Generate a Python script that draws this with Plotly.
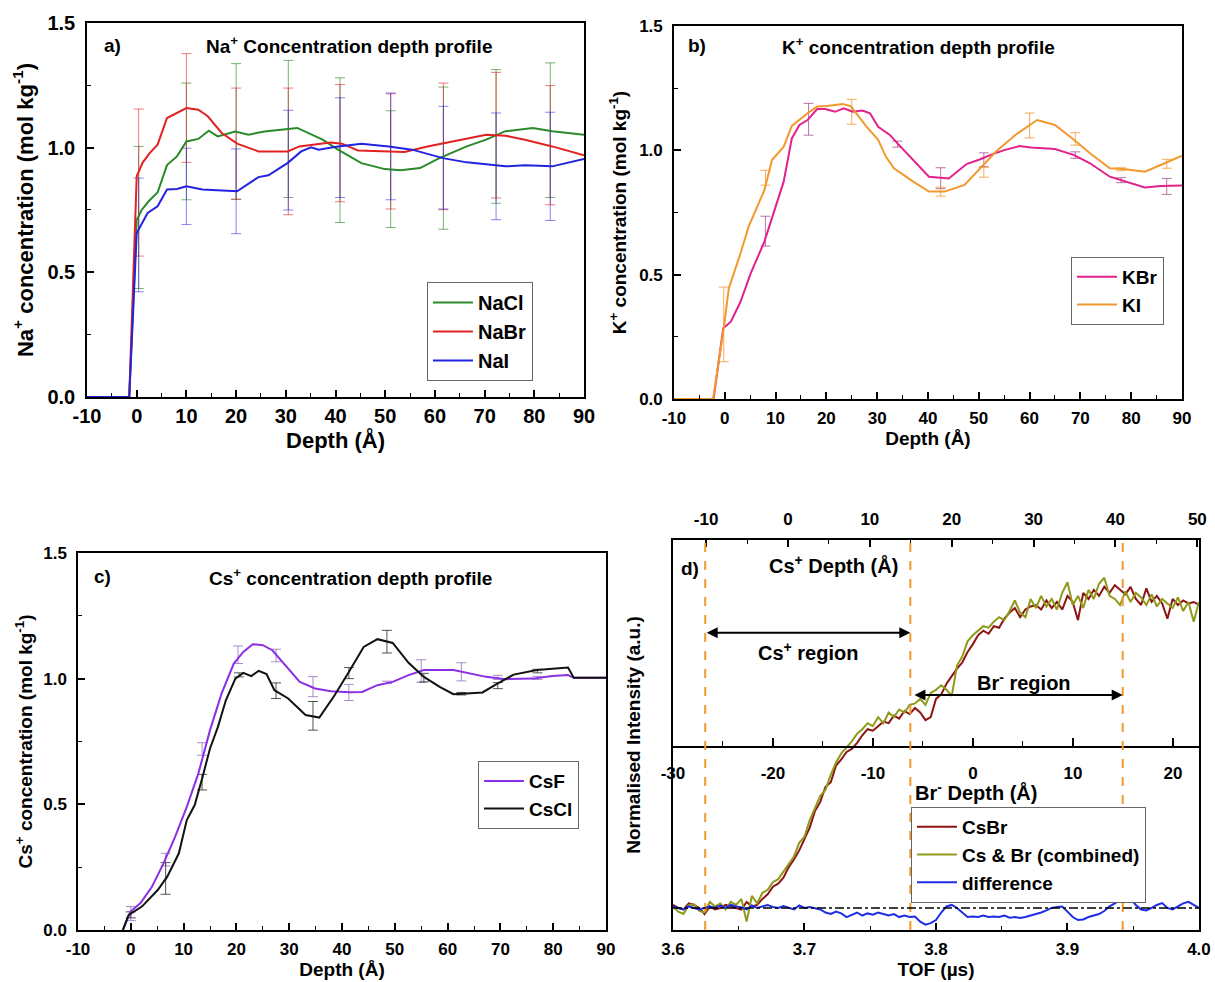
import plotly.graph_objects as go

FONT = "Liberation Sans, Arial, sans-serif"

# ---------------- Panel a : Na+ ----------------
nacl_x = [-10, -1.5, 0.0, 1.0, 2.4, 4.2, 6.1, 8.1, 10.0, 12.4, 14.5, 16.3, 19.8, 22.5, 25.7, 32.3, 37.4, 40.5,
          45.2, 49.9, 53.1, 57.0, 60.9, 66.4, 70.3, 74.2, 79.7, 83.6, 90]
nacl_y = [0, 0, 0.71, 0.75, 0.785, 0.82, 0.93, 0.965, 1.025, 1.035, 1.068, 1.045, 1.065, 1.052, 1.065, 1.079, 1.032,
          0.992, 0.938, 0.914, 0.909, 0.918, 0.958, 1.005, 1.032, 1.066, 1.079, 1.066, 1.052]
nabr_x = [-10, -1.5, 0.0, 1.2, 2.6, 4.2, 6.1, 10.0, 12.4, 14.3, 17.1, 20.2, 24.5, 30.4, 32.7, 39.0, 41.3, 44.5,
          53.9, 58.5, 70.3, 74.2, 78.1, 83.6, 90]
nabr_y = [0, 0, 0.885, 0.94, 0.978, 1.012, 1.119, 1.159, 1.152, 1.126, 1.059, 1.016, 0.985, 0.985, 1.005, 1.021,
          1.016, 0.989, 0.983, 1.005, 1.052, 1.048, 1.032, 1.005, 0.969]
nai_x = [-10, -1.5, 0.0, 2.2, 4.2, 6.1, 8.1, 10.0, 13.2, 17.1, 20.2, 24.5, 26.5, 30.4, 33.1, 35.1, 36.6, 39.8,
         45.2, 50.7, 55.4, 61.6, 66.4, 74.2, 78.1, 83.6, 90]
nai_y = [0, 0, 0.658, 0.738, 0.765, 0.832, 0.834, 0.845, 0.832, 0.829, 0.825, 0.882, 0.889, 0.939, 0.985, 1.001,
         0.992, 1.003, 1.016, 1.005, 0.992, 0.958, 0.941, 0.925, 0.929, 0.925, 0.955]
na_err_x = [0.4, 10.0, 20.0, 30.5, 40.9, 51.1, 61.7, 72.3, 83.2]
nacl_err_y = [0.72, 1.025, 1.065, 1.075, 0.99, 0.914, 0.958, 1.045, 1.07]
nacl_err = [0.285, 0.234, 0.272, 0.275, 0.29, 0.234, 0.285, 0.268, 0.27]
nabr_err_y = [0.86, 1.159, 1.016, 0.985, 1.018, 0.985, 1.005, 1.05, 1.01]
nabr_err = [0.295, 0.218, 0.223, 0.254, 0.235, 0.231, 0.254, 0.252, 0.239]
nai_err_y = [0.65, 0.845, 0.825, 0.95, 1.0, 1.005, 0.96, 0.925, 0.925]
nai_err = [0.228, 0.153, 0.17, 0.2, 0.2, 0.214, 0.206, 0.214, 0.217]

# ---------------- Panel b : K+ ----------------
kbr_x = [-10, -2.2, -0.3, 1.2, 3.1, 5.1, 7.8, 10.1, 11.6, 13.2, 14.7, 16.3, 18.2, 19.8, 21.7, 23.4, 25.2, 27.1,
         28.6, 30.2, 32.5, 34.0, 37.1, 40.2, 44.1, 47.6, 50.3, 52.6, 55.0, 58.0, 60.3, 65.0, 68.8, 71.9, 75.8,
         79.6, 82.7, 85.8, 90]
kbr_y = [0, 0, 0.284, 0.311, 0.391, 0.505, 0.633, 0.78, 0.874, 1.048, 1.102, 1.122, 1.166, 1.166, 1.155, 1.169,
         1.155, 1.16, 1.149, 1.095, 1.062, 1.028, 0.961, 0.894, 0.887, 0.945, 0.964, 0.984, 1.001, 1.017, 1.011,
         1.005, 0.981, 0.948, 0.894, 0.87, 0.851, 0.857, 0.859]
ki_x = [-10, -2.3, -0.1, 0.8, 3.1, 4.7, 7.8, 9.3, 11.6, 13.2, 16.3, 18.2, 20.1, 23.2, 24.8, 27.9, 30.2, 31.7,
        33.3, 37.1, 40.2, 43.3, 47.2, 50.3, 53.4, 57.2, 59.6, 61.5, 65.0, 68.8, 71.9, 75.8, 78.9, 82.7, 86.6, 90]
ki_y = [0, 0, 0.3, 0.445, 0.586, 0.693, 0.84, 0.961, 1.015, 1.098, 1.149, 1.176, 1.178, 1.186, 1.178, 1.095,
        1.042, 0.975, 0.928, 0.874, 0.834, 0.834, 0.861, 0.928, 0.995, 1.062, 1.095, 1.122, 1.102, 1.042, 0.988,
        0.928, 0.924, 0.914, 0.948, 0.979]
kbr_err_x = [8.0, 16.5, 34.0, 42.5, 51.0, 69.0, 78.0, 87.0]
kbr_err_y = [0.675, 1.125, 1.025, 0.888, 0.962, 0.981, 0.88, 0.855]
kbr_err = [0.06, 0.064, 0.012, 0.042, 0.028, 0.013, 0.01, 0.032]
ki_err_x = [-0.2, 8.0, 25.0, 42.5, 51.0, 60.0, 69.0, 78.0, 87.0]
ki_err_y = [0.3, 0.89, 1.155, 0.834, 0.912, 1.1, 1.046, 0.924, 0.946]
ki_err = [0.15, 0.03, 0.05, 0.018, 0.02, 0.05, 0.025, 0.006, 0.018]

# ---------------- Panel c : Cs+ ----------------
csf_x = [-1.5, -0.06, 1.8, 4.0, 6.2, 8.4, 10.6, 12.8, 15.0, 17.2, 19.5, 21.3, 23.1, 25.0, 26.8, 29.0, 32.0, 34.9,
         37.9, 41.5, 43.8, 46.7, 49.6, 52.6, 55.5, 61.1, 63.6, 67.3, 71.0, 76.2, 79.8, 82.8, 83.9, 90]
csf_y = [0, 0.073, 0.106, 0.172, 0.265, 0.371, 0.49, 0.623, 0.795, 0.941, 1.06, 1.106, 1.137, 1.133, 1.113, 1.06,
         0.987, 0.961, 0.95, 0.946, 0.947, 0.974, 0.987, 1.014, 1.034, 1.034, 1.023, 1.007, 0.998, 1.0, 1.01,
         1.014, 1.003, 1.003]
cscl_x = [-1.5, -0.4, 2.1, 5.1, 6.9, 9.1, 10.6, 12.1, 13.6, 15.0, 16.5, 18.0, 19.8, 21.3, 22.8, 24.2, 25.7, 27.2,
          29.8, 33.1, 35.7, 38.6, 41.2, 44.1, 46.7, 49.6, 52.6, 55.5, 58.5, 61.1, 63.6, 66.6, 69.5, 72.5, 76.9,
          79.8, 82.8, 83.9, 90]
cscl_y = [0, 0.06, 0.093, 0.159, 0.212, 0.305, 0.437, 0.497, 0.61, 0.722, 0.808, 0.914, 1.0, 1.023, 1.01, 1.031,
          1.018, 0.954, 0.921, 0.855, 0.845, 0.934, 1.023, 1.126, 1.157, 1.142, 1.063, 1.007, 0.967, 0.938, 0.941,
          0.945, 0.981, 1.016, 1.034, 1.04, 1.044, 1.003, 1.003]
csf_err_x = [0.0, 6.6, 13.5, 20.3, 27.5, 34.5, 41.3, 48.5, 55.0, 62.6, 69.5, 77.0]
csf_err_y = [0.065, 0.28, 0.72, 1.095, 1.092, 0.968, 0.945, 0.985, 1.03, 1.027, 1.005, 1.003]
csf_err = [0.028, 0.025, 0.025, 0.035, 0.025, 0.04, 0.032, 0.005, 0.045, 0.036, 0.008, 0.006]
cscl_err_x = [0.0, 6.6, 13.5, 20.5, 27.5, 34.5, 41.3, 48.5, 55.5, 62.6, 69.5, 77.0]
cscl_err_y = [0.06, 0.205, 0.588, 1.015, 0.952, 0.852, 1.022, 1.147, 1.004, 0.94, 0.972, 1.03]
cscl_err = [0.012, 0.063, 0.031, 0.008, 0.031, 0.057, 0.022, 0.045, 0.017, 0.005, 0.012, 0.007]

# ---------------- Panel d : CsBr TOF ----------------
tof = [3.600, 3.604, 3.608, 3.612, 3.616, 3.620, 3.624, 3.628, 3.632, 3.636,
       3.640, 3.644, 3.648, 3.652, 3.656, 3.660, 3.664, 3.668, 3.672, 3.676,
       3.680, 3.684, 3.688, 3.692, 3.696, 3.700, 3.704, 3.708, 3.712, 3.716,
       3.720, 3.724, 3.728, 3.732, 3.736, 3.740, 3.744, 3.748, 3.752, 3.756,
       3.760, 3.764, 3.768, 3.772, 3.776, 3.780, 3.784, 3.788, 3.792, 3.796,
       3.800, 3.804, 3.808, 3.812, 3.816, 3.820, 3.824, 3.828, 3.832, 3.836,
       3.840, 3.844, 3.848, 3.852, 3.856, 3.860, 3.864, 3.868, 3.872, 3.876,
       3.880, 3.884, 3.888, 3.892, 3.896, 3.900, 3.904, 3.908, 3.912, 3.916,
       3.920, 3.924, 3.928, 3.932, 3.936, 3.940, 3.944, 3.948, 3.952, 3.956,
       3.960, 3.964, 3.968, 3.972, 3.976, 3.980, 3.984, 3.988, 3.992, 3.996,
       4.000]
csbr = [0.01, 0.0, -0.005, 0.015, 0.01, 0.0, -0.02, 0.005, -0.005, 0.0,
        0.01, 0.005, 0.0, -0.005, 0.02, 0.005, 0.01, 0.03, 0.045, 0.07,
        0.08, 0.1, 0.135, 0.16, 0.19, 0.23, 0.265, 0.32, 0.35, 0.4,
        0.415, 0.47, 0.49, 0.515, 0.525, 0.545, 0.57, 0.59, 0.585, 0.6,
        0.615, 0.61, 0.635, 0.625, 0.65, 0.64, 0.66, 0.645, 0.62, 0.63,
        0.69, 0.705, 0.74, 0.765, 0.79, 0.81, 0.845, 0.87, 0.9, 0.915,
        0.905, 0.93, 0.925, 0.955, 0.975, 0.99, 0.96, 0.985, 0.995, 1.0,
        0.985, 1.015, 0.99, 1.01, 0.985, 1.03, 1.01, 0.95, 1.04, 1.02,
        1.05, 1.03, 1.06, 1.04, 1.065, 1.05, 1.035, 1.06, 1.02, 1.0,
        1.055, 1.01, 1.03, 1.005, 0.955, 1.02, 1.0, 1.015, 1.005, 1.01,
        1.0]
combined = [0.005, -0.012, -0.02, 0.01, 0.012, -0.01, -0.015, 0.02, 0.005, 0.015,
            -0.005, 0.02, 0.01, 0.03, -0.045, 0.04, 0.015, 0.05, 0.06, 0.085,
            0.095, 0.12, 0.145, 0.17, 0.215, 0.235, 0.29, 0.33, 0.37, 0.39,
            0.44, 0.48, 0.51, 0.53, 0.55, 0.575, 0.59, 0.61, 0.6, 0.63,
            0.61, 0.645, 0.63, 0.655, 0.645, 0.67, 0.675, 0.69, 0.67, 0.71,
            0.72, 0.735, 0.72, 0.7, 0.8, 0.83, 0.88, 0.9, 0.915, 0.93,
            0.925, 0.945, 0.96, 0.95, 0.98, 1.015, 0.975, 0.96, 1.02, 0.99,
            1.03, 0.995, 1.02, 0.985, 1.04, 1.075, 1.0, 1.03, 0.99, 1.05,
            1.02, 1.07, 1.09, 1.03, 1.02, 1.0, 1.045, 1.01, 1.04, 1.025,
            1.0, 1.035, 0.995, 1.02, 1.005, 0.99, 1.025, 0.98, 1.01, 0.945,
            1.01]
difference = [0.005, 0.0, -0.005, 0.005, 0.0, -0.005, 0.0, 0.005, 0.0, 0.008,
              0.0, 0.01, 0.005, 0.002, -0.005, 0.008, 0.0, 0.005, 0.01, 0.003,
              0.0, 0.006, 0.0, -0.005, 0.008, 0.0, 0.003, 0.0, -0.005, -0.015,
              -0.02, -0.012, -0.018, -0.03, -0.022, -0.015, -0.025, -0.018, -0.022, -0.015,
              -0.02, -0.025, -0.02, -0.03, -0.025, -0.03, -0.028, -0.045, -0.055, -0.05,
              -0.04, -0.015, 0.005, 0.01, 0.0, -0.015, -0.03, -0.028, -0.03, -0.025,
              -0.03, -0.028, -0.03, -0.025, -0.032, -0.03, -0.033, -0.03, -0.025, -0.022,
              -0.015, -0.008, 0.0, 0.003, 0.005, -0.012, -0.03, -0.04, -0.038, -0.03,
              -0.025, -0.02, -0.01, 0.005, 0.015, 0.027, 0.037, 0.03, 0.01, -0.005,
              -0.008, 0.0, 0.01, 0.016, 0.0, -0.005, 0.005, 0.015, 0.02, 0.01,
              0.0]
region_bounds = [3.6245, 3.7805, 3.942]   # TOF of the dashed orange lines

# tick labels
depth_ticks = [-10, 0, 10, 20, 30, 40, 50, 60, 70, 80, 90]
depth_text = ["-10", "0", "10", "20", "30", "40", "50", "60", "70", "80", "90"]
conc_ticks = [0.0, 0.5, 1.0, 1.5]
conc_text = ["0.0", "0.5", "1.0", "1.5"]
tof_ticks = [3.6, 3.7, 3.8, 3.9, 4.0]
tof_text = ["3.6", "3.7", "3.8", "3.9", "4.0"]
cs_depth_ticks = [-10, 0, 10, 20, 30, 40, 50]
cs_depth_text = ["-10", "0", "10", "20", "30", "40", "50"]
br_depth_ticks = [-30, -20, -10, 0, 10, 20]
br_depth_text = ["-30", "-20", "-10", "0", "10", "20"]

# colours
C_NACL, C_NABR, C_NAI = "#2a8a2a", "#e22222", "#2222e0"
C_KBR, C_KI = "#e3208b", "#f2992e"
C_CSF, C_CSCL = "#8a2fe3", "#111111"
C_CSBR, C_COMB, C_DIFF = "#8e1414", "#8f9a1a", "#1e2ee6"
C_DASH = "#f2992e"

fig = go.Figure()


def add_err(x, y, e, color, xa, ya):
    fig.add_trace(go.Scatter(x=x, y=y, mode="markers", marker=dict(size=1, opacity=0),
                             error_y=dict(type="data", array=e, color=color, thickness=1, width=5),
                             showlegend=False, hoverinfo="skip", xaxis=xa, yaxis=ya))


def add_line(x, y, color, name, xa, ya, legend, width=2):
    fig.add_trace(go.Scatter(x=x, y=y, mode="lines", line=dict(color=color, width=width), name=name,
                             xaxis=xa, yaxis=ya, legend=legend))


# panel a
add_err(na_err_x, nacl_err_y, nacl_err, "rgba(42,138,42,0.65)", "x", "y")
add_err(na_err_x, nabr_err_y, nabr_err, "rgba(226,34,34,0.6)", "x", "y")
add_err(na_err_x, nai_err_y, nai_err, "rgba(34,34,224,0.55)", "x", "y")
add_line(nacl_x, nacl_y, C_NACL, "NaCl", "x", "y", "legend")
add_line(nabr_x, nabr_y, C_NABR, "NaBr", "x", "y", "legend")
add_line(nai_x, nai_y, C_NAI, "NaI", "x", "y", "legend")

# panel b
add_err(kbr_err_x, kbr_err_y, kbr_err, "rgba(160,60,130,0.7)", "x2", "y2")
add_err(ki_err_x, ki_err_y, ki_err, "rgba(242,153,46,0.8)", "x2", "y2")
add_line(kbr_x, kbr_y, C_KBR, "KBr", "x2", "y2", "legend2")
add_line(ki_x, ki_y, C_KI, "KI", "x2", "y2", "legend2")

# panel c
add_err(csf_err_x, csf_err_y, csf_err, "rgba(150,110,190,0.8)", "x3", "y3")
add_err(cscl_err_x, cscl_err_y, cscl_err, "rgba(40,40,40,0.8)", "x3", "y3")
add_line(csf_x, csf_y, C_CSF, "CsF", "x3", "y3", "legend3")
add_line(cscl_x, cscl_y, C_CSCL, "CsCl", "x3", "y3", "legend3")

# panel d
add_line(tof, csbr, C_CSBR, "CsBr", "x4", "y4", "legend4")
add_line(tof, combined, C_COMB, "Cs & Br (combined)", "x4", "y4", "legend4")
add_line(tof, difference, C_DIFF, "difference", "x4", "y4", "legend4")
# empty traces so that the two extra depth axes of panel d are drawn
fig.add_trace(go.Scatter(x=[None], y=[None], mode="lines", xaxis="x5", yaxis="y4", showlegend=False,
                         hoverinfo="skip"))
fig.add_trace(go.Scatter(x=[None], y=[None], mode="lines", xaxis="x6", yaxis="y4", showlegend=False,
                         hoverinfo="skip"))

# ---------------- axes ----------------
line_style = dict(showline=True, linecolor="black", linewidth=1.5, showgrid=False, zeroline=False)


def depth_axis(domain, anchor, fs, tfs, standoff, lstand):
    return dict(domain=domain, anchor=anchor, range=[-10, 90], tickvals=depth_ticks, ticktext=depth_text,
                ticks="inside", ticklen=7, tickwidth=1.5, tickcolor="black", mirror=True,
                minor=dict(ticks="inside", ticklen=4, tickwidth=1.2, tickcolor="black",
                           tickvals=[-5, 5, 15, 25, 35, 45, 55, 65, 75, 85]),
                tickfont=dict(family=FONT, size=fs, color="black", weight="bold"), ticklabelstandoff=lstand,
                title=dict(text="Depth (Å)", font=dict(family=FONT, size=tfs, color="black", weight="bold"),
                           standoff=standoff),
                automargin=False, **line_style)


def conc_axis(domain, anchor, fs, tfs, text, standoff):
    return dict(domain=domain, anchor=anchor, range=[0, 1.5], tickvals=conc_ticks, ticktext=conc_text,
                ticks="inside", ticklen=7, tickwidth=1.5, tickcolor="black", mirror=True,
                minor=dict(ticks="inside", ticklen=4, tickwidth=1.2, tickcolor="black",
                           tickvals=[0.25, 0.75, 1.25]),
                tickfont=dict(family=FONT, size=fs, color="black", weight="bold"), ticklabelstandoff=6,
                title=dict(text=text, font=dict(family=FONT, size=tfs, color="black", weight="bold"),
                           standoff=standoff),
                automargin=False, **line_style)


DA_X, DA_Y = [0.0716, 0.4807], [0.5957, 0.9766]
DB_X, DB_Y = [0.5547, 0.9728], [0.5937, 0.9735]
DC_X, DC_Y = [0.0642, 0.4988], [0.0530, 0.4369]
DD_X, DD_Y = [0.5539, 0.9868], [0.0530, 0.4501]
D_YRANGE = [-0.0726, 1.2145]
BR_AXIS_POS = 0.2393

fig.update_layout(
    xaxis=depth_axis(DA_X, "y", 20, 22, 1, 0),
    yaxis=conc_axis(DA_Y, "x", 20, 22, "Na<sup>+</sup> concentration (mol kg<sup>-1</sup>)", 8),
    xaxis2=depth_axis(DB_X, "y2", 17, 19, 3, 3),
    yaxis2=conc_axis(DB_Y, "x2", 17, 19, "K<sup>+</sup> concentration (mol kg<sup>-1</sup>)", 8),
    xaxis3=depth_axis(DC_X, "y3", 17, 19, 3, 3),
    yaxis3=conc_axis(DC_Y, "x3", 17, 19, "Cs<sup>+</sup> concentration (mol kg<sup>-1</sup>)", 6),
    xaxis4=dict(domain=DD_X, anchor="y4", range=[3.6, 4.0], tickvals=tof_ticks, ticktext=tof_text,
                ticks="inside", ticklen=7, tickwidth=1.5, tickcolor="black", mirror=True,
                minor=dict(ticks="inside", ticklen=4, tickwidth=1.2, tickcolor="black",
                           tickvals=[3.65, 3.75, 3.85, 3.95]),
                tickfont=dict(family=FONT, size=17, color="black", weight="bold"), ticklabelstandoff=3,
                title=dict(text="TOF (µs)", font=dict(family=FONT, size=19, color="black", weight="bold"),
                           standoff=2),
                automargin=False, **line_style),
    yaxis4=dict(domain=DD_Y, anchor="x4", range=D_YRANGE, showticklabels=False, ticks="", mirror=True,
                title=dict(text="Normalised Intensity (a.u.)",
                           font=dict(family=FONT, size=19, color="black", weight="bold"), standoff=26),
                automargin=False, **line_style),
    xaxis5=dict(overlaying="x4", anchor="y4", side="top", range=[-14.05, 50.2], tickvals=cs_depth_ticks,
                ticktext=cs_depth_text, ticks="inside", ticklen=7, tickwidth=1.5, tickcolor="black",
                minor=dict(ticks="inside", ticklen=4, tickwidth=1.2, tickcolor="black",
                           tickvals=[-5, 5, 15, 25, 35, 45]),
                tickfont=dict(family=FONT, size=17, color="black", weight="bold"),
                ticklabelstandoff=11, automargin=False, showline=False, showgrid=False, zeroline=False),
    xaxis6=dict(overlaying="x4", anchor="free", position=BR_AXIS_POS, side="bottom", range=[-30.0, 22.6],
                tickvals=br_depth_ticks, ticktext=br_depth_text, ticks="inside", ticklen=8, tickwidth=1.5,
                tickcolor="black",
                minor=dict(ticks="inside", ticklen=5, tickwidth=1.2, tickcolor="black",
                           tickvals=[-25, -15, -5, 5, 15]),
                tickfont=dict(family=FONT, size=17, color="black", weight="bold"), ticklabelstandoff=11,
                automargin=False, showline=True, linecolor="black", linewidth=1.5, showgrid=False, zeroline=False),
)

legend_common = dict(xanchor="left", yanchor="top", bgcolor="white", bordercolor="#666", borderwidth=1,
                     tracegroupgap=0, itemwidth=40)
fig.update_layout(
    legend=dict(x=0.3514, y=0.7128, font=dict(family=FONT, size=20, color="black", weight="bold"), **legend_common),
    legend2=dict(x=0.8815, y=0.7383, font=dict(family=FONT, size=19, color="black", weight="bold"), **legend_common),
    legend3=dict(x=0.3934, y=0.225, font=dict(family=FONT, size=19, color="black", weight="bold"), **legend_common),
    legend4=dict(x=0.7498, y=0.1782, font=dict(family=FONT, size=19, color="black", weight="bold"), **legend_common),
)


def label(text, x, y, xref, yref, size=19, xanchor="center"):
    fig.add_annotation(text=text, x=x, y=y, xref=xref, yref=yref, showarrow=False, xanchor=xanchor,
                       yanchor="middle", font=dict(family=FONT, size=size, color="black", weight="bold"))


label("a)", -4.8, 1.41, "x", "y")
label("Na<sup>+</sup> Concentration depth profile", 42.7, 1.41, "x", "y")
label("b)", -5.5, 1.42, "x2", "y2")
label("K<sup>+</sup> concentration depth profile", 38.1, 1.42, "x2", "y2")
label("c)", -5.45, 1.405, "x3", "y3")
label("Cs<sup>+</sup> concentration depth profile", 41.6, 1.405, "x3", "y3")
label("d)", 3.6129, 1.12, "x4", "y4")
label("Cs<sup>+</sup> Depth (Å)", 3.7224, 1.135, "x4", "y4", size=20)
label("Cs<sup>+</sup> region", 3.7027, 0.845, "x4", "y4", size=20)
label("Br<sup>-</sup> region", 3.8669, 0.749, "x4", "y4", size=20)
label("Br<sup>-</sup> Depth (Å)", 3.8304, 0.383, "x4", "y4", size=20)

# region arrows
for x0, x1, yv in [(region_bounds[0], region_bounds[1], 0.908), (region_bounds[1] + 0.002, region_bounds[2], 0.703)]:
    fig.add_annotation(x=x1, y=yv, ax=x0, ay=yv, xref="x4", yref="y4", axref="x4", ayref="y4", text="",
                       showarrow=True, arrowhead=2, arrowsize=1.1, arrowwidth=2, arrowcolor="black",
                       arrowside="end+start")

# dashed region bounds and baseline
for xv in region_bounds:
    fig.add_shape(type="line", x0=xv, x1=xv, y0=0, y1=1, xref="x4", yref="y4 domain",
                  line=dict(color=C_DASH, width=2, dash="dash"))
fig.add_shape(type="line", x0=3.6, x1=4.0, y0=0, y1=0, xref="x4", yref="y4",
              line=dict(color="black", width=1.5, dash="dashdot"))

fig.update_layout(width=1215, height=982, margin=dict(l=0, r=0, t=0, b=0),
                  paper_bgcolor="white", plot_bgcolor="white", font=dict(family=FONT, color="black"))

fig.write_html("out.html", config={"displayModeBar": False},
               post_script="document.body.style.margin='0px';document.body.style.overflow='hidden';")
